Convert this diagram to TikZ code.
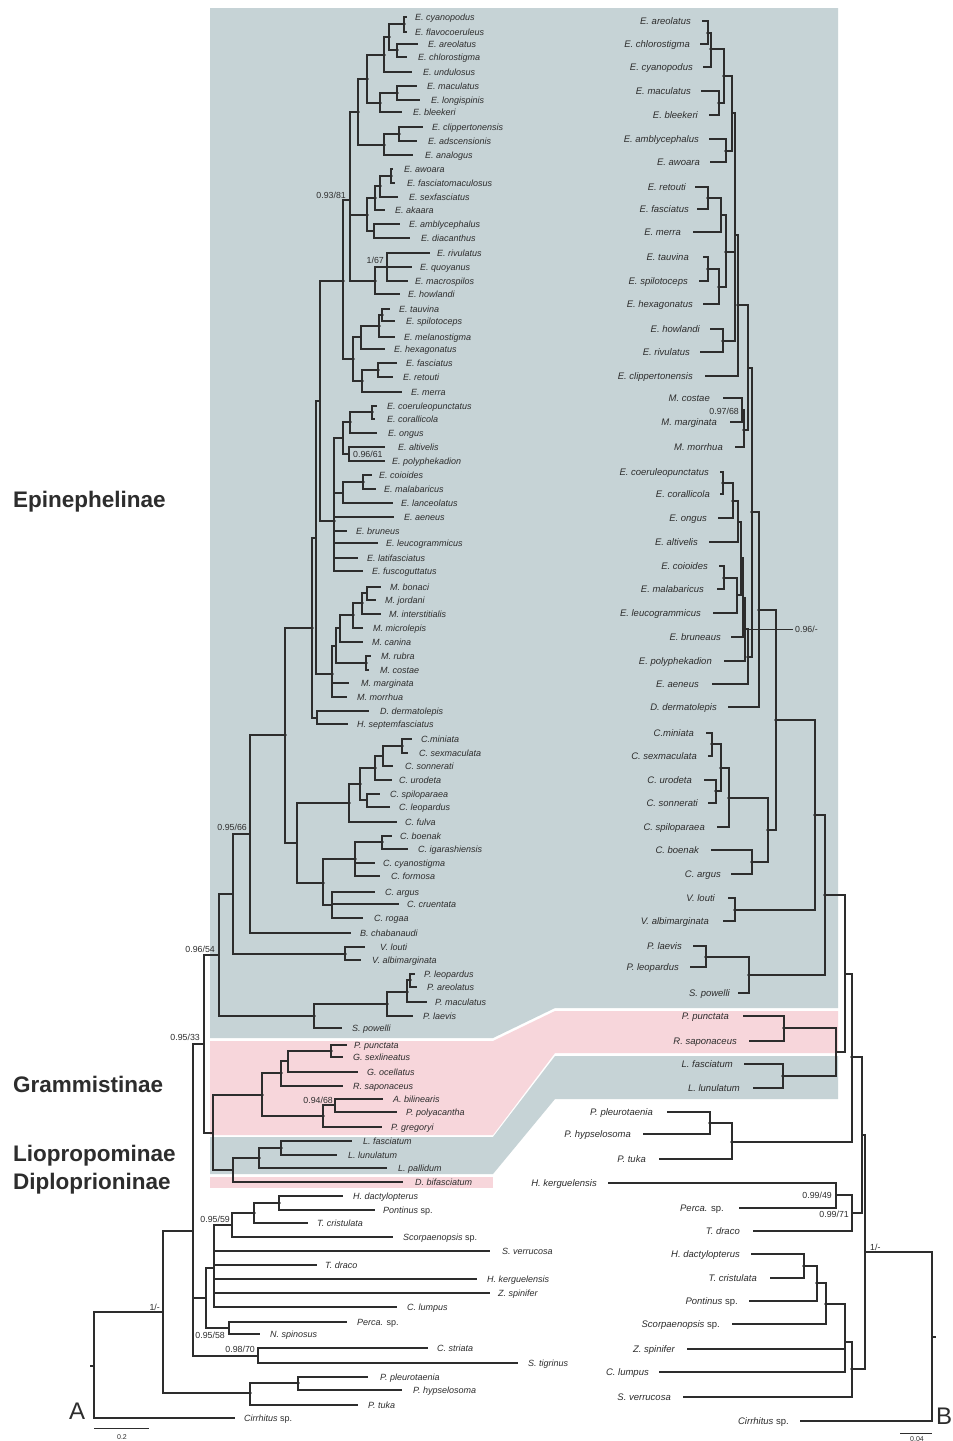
\documentclass[tikz,border=0pt]{standalone}
\usepackage{fontspec}
\setmainfont{Liberation Sans}
\definecolor{gbox}{RGB}{198,211,214}
\definecolor{pbox}{RGB}{247,214,219}
\definecolor{tc}{RGB}{45,45,45}
\tikzset{
  br/.style={draw=tc,line width=1.1pt},
  lt/.style={font=\fontsize{9}{10}\selectfont\itshape,anchor=base west,inner sep=0,text=tc},
  rt/.style={font=\fontsize{9.5}{10}\selectfont\itshape,anchor=base east,inner sep=0,text=tc},
  sup/.style={font=\fontsize{8.8}{10}\selectfont,inner sep=0,text=tc},
  big/.style={font=\fontsize{22.5}{26}\selectfont\bfseries,anchor=base west,inner sep=0,text=tc}
}
\newcommand\tipL[5]{\coordinate (#1) at (#2,#4);\node[lt] (#1t) at (#3,#4+3.2) {#5};}
\newcommand\tipR[5]{\coordinate (#1) at (#2,#4);\node[rt] (#1t) at (#3,#4+3.4) {#5};}
\newcommand\nodeI[3]{\coordinate (#1) at (#2,#3);}
\begin{document}
\begin{tikzpicture}[x=1pt,y=-1pt]
\fill[white] (0,0) rectangle (953,1441);
\useasboundingbox (0,0) rectangle (953,1441);
% background regions
\fill[gbox] (210,8) -- (838,8) -- (838,1008) -- (555,1008) -- (493,1038) -- (210,1038) -- cycle;
\fill[pbox] (210,1041) -- (493,1041) -- (555,1011) -- (838,1011) -- (838,1053) -- (555,1053) -- (493,1135) -- (210,1135) -- cycle;
\fill[gbox] (210,1137) -- (493,1137) -- (555,1056) -- (838,1056) -- (838,1099) -- (555,1099) -- (493,1174) -- (210,1174) -- cycle;
\fill[pbox] (210,1177) rectangle (493,1188);
% group labels
\node[big] (gEpi) at (13,507) {Epinephelinae};
\node[big] (gGra) at (13,1092) {Grammistinae};
\node[big] (gLio) at (13,1161) {Liopropominae};
\node[big] (gDip) at (13,1189) {Diploprioninae};
% ===== LEFT TREE: tips =====
\tipL{L1}{407}{415}{17}{E. cyanopodus}
\tipL{L2}{407}{415}{32}{E. flavocoeruleus}
\tipL{L3}{418}{428}{44}{E. areolatus}
\tipL{L4}{407}{418}{57}{E. chlorostigma}
\tipL{L5}{412}{423}{72}{E. undulosus}
\tipL{L6}{417}{427}{86}{E. maculatus}
\tipL{L7}{420}{431}{100}{E. longispinis}
\tipL{L8}{402}{413}{112}{E. bleekeri}
\tipL{L9}{423}{432}{127}{E. clippertonensis}
\tipL{L10}{417}{428}{141}{E. adscensionis}
\tipL{L11}{413}{425}{155}{E. analogus}
\tipL{L12}{393}{404}{169}{E. awoara}
\tipL{L13}{395}{407}{183}{E. fasciatomaculosus}
\tipL{L14}{398}{409}{197}{E. sexfasciatus}
\tipL{L15}{385}{395}{210}{E. akaara}
\tipL{L16}{400}{409}{224}{E. amblycephalus}
\tipL{L17}{410}{421}{238}{E. diacanthus}
\tipL{L18}{430}{437}{253}{E. rivulatus}
\tipL{L19}{412}{420}{267}{E. quoyanus}
\tipL{L20}{408}{415}{281}{E. macrospilos}
\tipL{L21}{400}{408}{294}{E. howlandi}
\tipL{L22}{390}{399}{309}{E. tauvina}
\tipL{L23}{395}{406}{321}{E. spilotoceps}
\tipL{L24}{395}{404}{337}{E. melanostigma}
\tipL{L25}{385}{394}{349}{E. hexagonatus}
\tipL{L26}{397}{406}{363}{E. fasciatus}
\tipL{L27}{393}{403}{377}{E. retouti}
\tipL{L28}{402}{411}{392}{E. merra}
\tipL{L29}{377}{387}{406}{E. coeruleopunctatus}
\tipL{L30}{375}{387}{419}{E. corallicola}
\tipL{L31}{377}{388}{433}{E. ongus}
\tipL{L32}{385}{398}{447}{E. altivelis}
\tipL{L33}{385}{392}{461}{E. polyphekadion}
\tipL{L34}{372}{379}{475}{E. coioides}
\tipL{L35}{376}{384}{489}{E. malabaricus}
\tipL{L36}{393}{401}{503}{E. lanceolatus}
\tipL{L37}{394}{404}{517}{E. aeneus}
\tipL{L38}{347}{356}{531}{E. bruneus}
\tipL{L39}{378}{386}{543}{E. leucogrammicus}
\tipL{L40}{358}{367}{558}{E. latifasciatus}
\tipL{L41}{363}{372}{571}{E. fuscoguttatus}
\tipL{L42}{381}{390}{587}{M. bonaci}
\tipL{L43}{376}{385}{600}{M. jordani}
\tipL{L44}{381}{389}{614}{M. interstitialis}
\tipL{L45}{363}{373}{628}{M. microlepis}
\tipL{L46}{363}{372}{642}{M. canina}
\tipL{L47}{371}{381}{656}{M. rubra}
\tipL{L48}{369}{380}{670}{M. costae}
\tipL{L49}{349}{361}{683}{M. marginata}
\tipL{L50}{347}{357}{697}{M. morrhua}
\tipL{L51}{369}{380}{711}{D. dermatolepis}
\tipL{L52}{348}{357}{724}{H. septemfasciatus}
\tipL{L53}{412}{421}{739}{C.miniata}
\tipL{L54}{408}{419}{753}{C. sexmaculata}
\tipL{L55}{393}{405}{766}{C. sonnerati}
\tipL{L56}{392}{399}{780}{C. urodeta}
\tipL{L57}{380}{390}{794}{C. spiloparaea}
\tipL{L58}{390}{399}{807}{C. leopardus}
\tipL{L59}{397}{405}{822}{C. fulva}
\tipL{L60}{392}{400}{836}{C. boenak}
\tipL{L61}{408}{418}{849}{C. igarashiensis}
\tipL{L62}{375}{383}{863}{C. cyanostigma}
\tipL{L63}{380}{391}{876}{C. formosa}
\tipL{L64}{375}{385}{892}{C. argus}
\tipL{L65}{399}{407}{904}{C. cruentata}
\tipL{L66}{363}{374}{918}{C. rogaa}
\tipL{L67}{351}{360}{933}{B. chabanaudi}
\tipL{L68}{365}{380}{947}{V. louti}
\tipL{L69}{361}{372}{960}{V. albimarginata}
\tipL{L70}{415}{424}{974}{P. leopardus}
\tipL{L71}{417}{427}{987}{P. areolatus}
\tipL{L72}{427}{435}{1002}{P. maculatus}
\tipL{L73}{413}{423}{1016}{P. laevis}
\tipL{L74}{342}{352}{1028}{S. powelli}
\tipL{L75}{347}{354}{1045}{P. punctata}
\tipL{L76}{343}{353}{1057}{G. sexlineatus}
\tipL{L77}{358}{367}{1072}{G. ocellatus}
\tipL{L78}{343}{353}{1086}{R. saponaceus}
\tipL{L79}{383}{393}{1099}{A. bilinearis}
\tipL{L80}{397}{406}{1112}{P. polyacantha}
\tipL{L81}{382}{391}{1127}{P. gregoryi}
\tipL{L82}{352}{363}{1141}{L. fasciatum}
\tipL{L83}{337}{348}{1155}{L. lunulatum}
\tipL{L84}{387}{398}{1168}{L. pallidum}
\tipL{L85}{403}{415}{1182}{D. bifasciatum}
\tipL{L86}{343}{353}{1196}{H. dactylopterus}
\tipL{L87}{375}{383}{1210}{Pontinus {\upshape sp.}}
\tipL{L88}{308}{317}{1223}{T. cristulata}
\tipL{L89}{393}{403}{1237}{Scorpaenopsis {\upshape sp.}}
\tipL{L90}{490}{502}{1251}{S. verrucosa}
\tipL{L91}{317}{325}{1265}{T. draco}
\tipL{L92}{477}{487}{1279}{H. kerguelensis}
\tipL{L93}{490}{498}{1293}{Z. spinifer}
\tipL{L94}{397}{407}{1307}{C. lumpus}
\tipL{L95}{347}{357}{1322}{Perca. {\upshape sp.}}
\tipL{L96}{260}{270}{1334}{N. spinosus}
\tipL{L97}{428}{437}{1348}{C. striata}
\tipL{L98}{518}{528}{1363}{S. tigrinus}
\tipL{L99}{368}{380}{1377}{P. pleurotaenia}
\tipL{L100}{402}{413}{1390}{P. hypselosoma}
\tipL{L101}{358}{368}{1405}{P. tuka}
\tipL{L102}{235}{244}{1418}{Cirrhitus {\upshape sp.}}
% ===== LEFT TREE: internal nodes =====
\nodeI{n1}{404}{24}\nodeI{n2}{397}{50}\nodeI{n3}{389}{37}\nodeI{n4}{384}{55}
\nodeI{n5}{397}{93}\nodeI{n6}{380}{103}\nodeI{n7}{367}{79}\nodeI{n8}{399}{134}
\nodeI{n9}{384}{145}\nodeI{n10}{358}{112}\nodeI{n11}{391}{176}\nodeI{n12}{380}{186}
\nodeI{n13}{375}{198}\nodeI{n14}{374}{231}\nodeI{n15}{367}{215}\nodeI{n16}{387}{267}
\nodeI{n17}{375}{281}\nodeI{n18}{350}{200}\nodeI{n19}{382}{315}\nodeI{n20}{379}{326}
\nodeI{n21}{361}{337}\nodeI{n22}{378}{370}\nodeI{n23}{362}{381}\nodeI{n24}{353}{359}
\nodeI{n25}{343}{281}\nodeI{n26}{372}{412}\nodeI{n27}{350}{422}\nodeI{n28}{349}{454}
\nodeI{n29}{343}{438}\nodeI{n30}{363}{482}\nodeI{n31}{343}{493}\nodeI{n32}{334}{521}
\nodeI{n33}{320}{401}\nodeI{n34}{367}{593}\nodeI{n35}{362}{603}\nodeI{n36}{353}{615}
\nodeI{n37}{340}{628}\nodeI{n38}{366}{663}\nodeI{n39}{336}{646}\nodeI{n40}{332}{674}
\nodeI{n41}{316}{538}\nodeI{n42}{317}{718}\nodeI{n43}{312}{628}\nodeI{n44}{402}{746}
\nodeI{n45}{383}{756}\nodeI{n46}{375}{768}\nodeI{n47}{367}{800}\nodeI{n48}{360}{784}
\nodeI{n49}{349}{803}\nodeI{n50}{382}{842}\nodeI{n51}{355}{859}\nodeI{n52}{332}{905}
\nodeI{n53}{323}{883}\nodeI{n54}{297}{843}\nodeI{n55}{285}{735}\nodeI{n56}{250}{834}
\nodeI{n57}{345}{954}\nodeI{n58}{233}{894}\nodeI{n59}{410}{980}\nodeI{n60}{407}{992}
\nodeI{n61}{387}{1004}\nodeI{n62}{314}{1016}\nodeI{n63}{219}{955}\nodeI{n64}{331}{1051}
\nodeI{n65}{288}{1061}\nodeI{n66}{281}{1073}\nodeI{n67}{335}{1105}\nodeI{n68}{323}{1116}
\nodeI{n69}{262}{1095}\nodeI{n70}{281}{1148}\nodeI{n71}{259}{1158}\nodeI{n72}{233}{1170}
\nodeI{n73}{213}{1133}\nodeI{n74}{204}{1044}\nodeI{n75}{279}{1203}\nodeI{n76}{254}{1213}
\nodeI{n77}{232}{1225}\nodeI{n78}{214}{1268}\nodeI{n79}{229}{1328}\nodeI{n80}{206}{1298}
\nodeI{n81}{258}{1356}\nodeI{n82}{193}{1231}\nodeI{n83}{298}{1383}\nodeI{n84}{250}{1393}
\nodeI{n85}{163}{1312}\nodeI{nroot}{94}{1366}\coordinate (nstub) at (90,1366);
\foreach \a/\b in {n1/L1,n1/L2,n2/L3,n2/L4,n3/n1,n3/n2,n4/n3,n4/L5,n5/L6,n5/L7,n6/n5,n6/L8,
 n7/n4,n7/n6,n8/L9,n8/L10,n9/n8,n9/L11,n10/n7,n10/n9,n11/L12,n11/L13,n12/n11,n12/L14,
 n13/n12,n13/L15,n14/L16,n14/L17,n15/n13,n15/n14,n16/L18,n16/L19,n16/L20,n17/n16,n17/L21,
 n18/n10,n18/n15,n18/n17,n19/L22,n19/L23,n20/n19,n20/L24,n21/n20,n21/L25,n22/L26,n22/L27,
 n23/n22,n23/L28,n24/n21,n24/n23,n25/n18,n25/n24,n26/L29,n26/L30,n27/n26,n27/L31,
 n28/L32,n28/L33,n29/n27,n29/n28,n30/L34,n30/L35,n31/n30,n31/L36,
 n32/n29,n32/n31,n32/L37,n32/L38,n32/L39,n32/L40,n32/L41,n33/n25,n33/n32,
 n34/L42,n34/L43,n35/n34,n35/L44,n36/n35,n36/L45,n37/n36,n37/L46,n38/L47,n38/L48,
 n39/n37,n39/n38,n40/n39,n40/L49,n40/L50,n41/n33,n41/n40,n42/L51,n42/L52,n43/n41,n43/n42,
 n44/L53,n44/L54,n45/n44,n45/L55,n46/n45,n46/L56,n47/L57,n47/L58,n48/n46,n48/n47,
 n49/n48,n49/L59,n50/L60,n50/L61,n51/n50,n51/L62,n51/L63,n52/L64,n52/L65,n52/L66,
 n53/n51,n53/n52,n54/n49,n54/n53,n55/n43,n55/n54,n56/n55,n56/L67,n57/L68,n57/L69,
 n58/n56,n58/n57,n59/L70,n59/L71,n60/n59,n60/L72,n61/n60,n61/L73,n62/n61,n62/L74,
 n63/n58,n63/n62,n64/L75,n64/L76,n65/n64,n65/L77,n66/n65,n66/L78,n67/L79,n67/L80,
 n68/n67,n68/L81,n69/n66,n69/n68,n70/L82,n70/L83,n71/n70,n71/L84,n72/n71,n72/L85,
 n73/n69,n73/n72,n74/n63,n74/n73,n75/L86,n75/L87,n76/n75,n76/L88,n77/n76,n77/L89,
 n78/n77,n78/L90,n78/L91,n78/L92,n78/L93,n78/L94,n79/L95,n79/L96,n80/n78,n80/n79,
 n81/L97,n81/L98,n82/n74,n82/n80,n82/n81,n83/L99,n83/L100,n84/n83,n84/L101,
 n85/n82,n85/n84,nroot/n85,nroot/L102}
 \draw[br] (\a) |- (\b);
\draw[br] (nstub) -- (nroot);
\foreach \d in {n1,n2,n3,n4,n5,n6,n7,n8,n9,n10,n11,n12,n13,n15,n17,n19,n20,n22,n23,n24,n25,
 n26,n27,n30,n32,n35,n36,n38,n40,n43,n44,n46,n48,n49,n50,n51,n53,n55,n57,n59,n60,n61,n62,
 n64,n66,n68,n69,n70,n71,n75,n76,n83,n84}
 \fill[tc] (\d) circle (1.9);
% left supports
\node[sup,anchor=base east] (s1) at (346,198) {0.93/81};
\node[sup,anchor=base east] (s2) at (384,263) {1/67};
\node[sup,anchor=base west] (s3) at (353,457) {0.96/61};
\node[sup,anchor=base east] (s4) at (247,830) {0.95/66};
\node[sup,anchor=base east] (s5) at (215,952) {0.96/54};
\node[sup,anchor=base east] (s6) at (200,1040) {0.95/33};
\node[sup,anchor=base east] (s7) at (333,1103) {0.94/68};
\node[sup,anchor=base east] (s8) at (230,1222) {0.95/59};
\node[sup,anchor=base east] (s9) at (225,1338) {0.95/58};
\node[sup,anchor=base east] (s10) at (255,1352) {0.98/70};
\node[sup,anchor=base east] (s11) at (160,1310) {1/-};
% left scale
\coordinate (sa1) at (94,1428); \coordinate (sa2) at (149,1428);
\draw[draw=tc,line width=0.9pt] (sa1) -- (sa2);
\node[sup,font=\fontsize{7}{8}\selectfont,anchor=base] (sal) at (122,1439) {0.2};
\node[font=\fontsize{24}{26}\selectfont,anchor=base west,inner sep=0,text=tc] (labA) at (69,1419) {A};
% ===== RIGHT TREE: tips =====
\tipR{r1}{702}{691}{21}{E. areolatus}
\tipR{r2}{700}{690}{44}{E. chlorostigma}
\tipR{r3}{703}{693}{67}{E. cyanopodus}
\tipR{r4}{701}{691}{91}{E. maculatus}
\tipR{r5}{709}{698}{115}{E. bleekeri}
\tipR{r6}{709}{699}{139}{E. amblycephalus}
\tipR{r7}{710}{700}{162}{E. awoara}
\tipR{r8}{695}{686}{187}{E. retouti}
\tipR{r9}{697}{689}{209}{E. fasciatus}
\tipR{r10}{693}{681}{232}{E. merra}
\tipR{r11}{703}{689}{257}{E. tauvina}
\tipR{r12}{699}{688}{281}{E. spilotoceps}
\tipR{r13}{703}{693}{304}{E. hexagonatus}
\tipR{r14}{710}{700}{329}{E. howlandi}
\tipR{r15}{700}{690}{352}{E. rivulatus}
\tipR{r16}{705}{693}{376}{E. clippertonensis}
\tipR{r17}{723}{710}{398}{M. costae}
\tipR{r18}{730}{717}{422}{M. marginata}
\tipR{r19}{735}{723}{447}{M. morrhua}
\tipR{r20}{720}{709}{472}{E. coeruleopunctatus}
\tipR{r21}{720}{710}{494}{E. corallicola}
\tipR{r22}{718}{707}{518}{E. ongus}
\tipR{r23}{709}{698}{542}{E. altivelis}
\tipR{r24}{719}{708}{566}{E. coioides}
\tipR{r25}{717}{704}{589}{E. malabaricus}
\tipR{r26}{713}{701}{613}{E. leucogrammicus}
\tipR{r27}{731}{721}{637}{E. bruneaus}
\tipR{r28}{724}{712}{661}{E. polyphekadion}
\tipR{r29}{712}{699}{684}{E. aeneus}
\tipR{r30}{728}{717}{707}{D. dermatolepis}
\tipR{r31}{706}{694}{733}{C.miniata}
\tipR{r32}{708}{697}{756}{C. sexmaculata}
\tipR{r33}{704}{692}{780}{C. urodeta}
\tipR{r34}{708}{698}{803}{C. sonnerati}
\tipR{r35}{717}{705}{827}{C. spiloparaea}
\tipR{r36}{711}{699}{850}{C. boenak}
\tipR{r37}{731}{721}{874}{C. argus}
\tipR{r38}{728}{715}{898}{V. louti}
\tipR{r39}{723}{709}{921}{V. albimarginata}
\tipR{r40}{693}{682}{946}{P. laevis}
\tipR{r41}{690}{679}{967}{P. leopardus}
\tipR{r42}{738}{730}{993}{S. powelli}
\tipR{r43}{743}{729}{1016}{P. punctata}
\tipR{r44}{749}{737}{1041}{R. saponaceus}
\tipR{r45}{744}{733}{1064}{L. fasciatum}
\tipR{r46}{753}{740}{1088}{L. lunulatum}
\tipR{r47}{667}{653}{1112}{P. pleurotaenia}
\tipR{r48}{643}{631}{1134}{P. hypselosoma}
\tipR{r49}{659}{646}{1159}{P. tuka}
\tipR{r50}{608}{597}{1183}{H. kerguelensis}
\tipR{r51}{739}{724}{1208}{Perca. {\upshape sp.}}
\tipR{r52}{753}{740}{1231}{T. draco}
\tipR{r53}{751}{740}{1254}{H. dactylopterus}
\tipR{r54}{770}{757}{1278}{T. cristulata}
\tipR{r55}{749}{738}{1301}{Pontinus {\upshape sp.}}
\tipR{r56}{732}{720}{1324}{Scorpaenopsis {\upshape sp.}}
\tipR{r57}{687}{675}{1349}{Z. spinifer}
\tipR{r58}{659}{649}{1372}{C. lumpus}
\tipR{r59}{683}{671}{1397}{S. verrucosa}
\tipR{r60}{800}{789}{1421}{Cirrhitus {\upshape sp.}}
% ===== RIGHT TREE: internal nodes =====
\nodeI{q1}{708}{33}\nodeI{q2}{711}{49}\nodeI{q3}{719}{103}\nodeI{q4}{724}{76}
\nodeI{q5}{726}{151}\nodeI{q6}{732}{113}\nodeI{q7}{708}{198}\nodeI{q8}{721}{215}
\nodeI{q9}{708}{269}\nodeI{q10}{719}{287}\nodeI{q11}{726}{252}\nodeI{q12}{723}{341}
\nodeI{q13}{735}{235}\nodeI{q14}{738}{305}\nodeI{q15}{742}{410}\nodeI{q16}{744}{430}
\nodeI{q17}{748}{368}\nodeI{q18}{723}{483}\nodeI{q19}{733}{501}\nodeI{q20}{738}{522}
\nodeI{q21}{724}{578}\nodeI{q22}{737}{595}\nodeI{q23}{741}{558}\nodeI{q24}{743}{598}
\nodeI{q25}{745}{629}\nodeI{q26}{748}{657}\nodeI{q27}{752}{512}\nodeI{q28}{759}{610}
\nodeI{q29}{712}{744}\nodeI{q30}{716}{791}\nodeI{q31}{721}{768}\nodeI{q32}{729}{798}
\nodeI{q33}{752}{862}\nodeI{q34}{768}{830}\nodeI{q35}{776}{720}\nodeI{q36}{735}{910}
\nodeI{q37}{815}{815}\nodeI{q38}{706}{957}\nodeI{q39}{749}{975}\nodeI{q40}{825}{895}
\nodeI{q41}{784}{1028}\nodeI{q42}{783}{1076}\nodeI{q43}{836}{1052}\nodeI{q44}{845}{974}
\nodeI{q45}{710}{1123}\nodeI{q46}{732}{1142}\nodeI{q47}{852}{1057}\nodeI{q48}{836}{1195}
\nodeI{q49}{852}{1213}\nodeI{q50}{804}{1266}\nodeI{q51}{817}{1283}\nodeI{q52}{826}{1304}
\nodeI{q53}{845}{1342}\nodeI{q54}{852}{1369}\nodeI{q55}{862}{1135}\nodeI{q56}{865}{1252}
\nodeI{q57}{932}{1337}\coordinate (qstub) at (936,1337);
\foreach \a/\b in {q1/r1,q1/r2,q2/q1,q2/r3,q3/r4,q3/r5,q4/q2,q4/q3,q5/r6,q5/r7,q6/q4,q6/q5,
 q7/r8,q7/r9,q8/q7,q8/r10,q9/r11,q9/r12,q10/q9,q10/r13,q11/q8,q11/q10,q12/r14,q12/r15,
 q13/q6,q13/q11,q13/q12,q14/q13,q14/r16,q15/r17,q15/r18,q16/q15,q16/r19,q17/q14,q17/q16,
 q18/r20,q18/r21,q19/q18,q19/r22,q20/q19,q20/r23,q21/r24,q21/r25,q22/q21,q22/r26,
 q23/q20,q23/q22,q24/q23,q24/r27,q25/q24,q25/r28,q26/q25,q26/r29,q27/q17,q27/q26,
 q28/q27,q28/r30,q29/r31,q29/r32,q30/r33,q30/r34,q31/q29,q31/q30,q32/q31,q32/r35,
 q33/r36,q33/r37,q34/q32,q34/q33,q35/q28,q35/q34,q36/r38,q36/r39,q37/q35,q37/q36,
 q38/r40,q38/r41,q39/q38,q39/r42,q40/q37,q40/q39,q41/r43,q41/r44,q42/r45,q42/r46,
 q43/q41,q43/q42,q44/q40,q44/q43,q45/r47,q45/r48,q46/q45,q46/r49,q47/q44,q47/q46,
 q48/r50,q48/r51,q49/q48,q49/r52,q50/r53,q50/r54,q51/q50,q51/r55,q52/q51,q52/r56,
 q53/q52,q53/r57,q53/r58,q54/q53,q54/r59,q55/q47,q55/q49,q56/q55,q56/q54,q57/q56,q57/r60}
 \draw[br] (\a) |- (\b);
\draw[br] (q57) -- (qstub);
\foreach \d in {q1,q2,q3,q4,q5,q7,q9,q10,q11,q12,q14,q16,q18,q19,q21,q26,q27,q28,q29,q30,
 q31,q32,q33,q34,q35,q36,q37,q38,q39,q40,q41,q42,q45,q46,q47,q50,q51,q52,q54}
 \fill[tc] (\d) circle (1.9);
% right supports
\node[sup,anchor=base east] (t1) at (739,414) {0.97/68};
\coordinate (ldr) at (793,629);
\draw[draw=tc,line width=0.9pt] (q25) -- (ldr);
\node[sup,anchor=base west] (t2) at (795,632) {0.96/-};
\node[sup,anchor=base east] (t3) at (832,1198) {0.99/49};
\node[sup,anchor=base east] (t4) at (849,1217) {0.99/71};
\node[sup,anchor=base west] (t5) at (870,1250) {1/-};
% right scale
\coordinate (sb1) at (900,1433); \coordinate (sb2) at (932,1433);
\draw[draw=tc,line width=0.9pt] (sb1) -- (sb2);
\node[sup,font=\fontsize{7}{8}\selectfont,anchor=base] (sbl) at (917,1441) {0.04};
\node[font=\fontsize{24}{26}\selectfont,anchor=base west,inner sep=0,text=tc] (labB) at (936,1424) {B};
\end{tikzpicture}
\end{document}
